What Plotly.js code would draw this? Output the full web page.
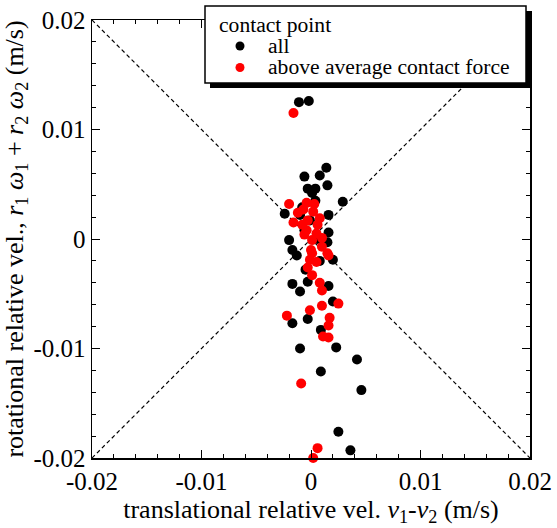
<!DOCTYPE html>
<html>
<head>
<meta charset="utf-8">
<script src="https://cdn.plot.ly/plotly-3.0.1.min.js"></script>
<style>html,body{margin:0;padding:0;background:#fff;}#chart{width:557px;height:528px;}</style>
</head>
<body>
<div id="chart"></div>
<script>
// All contact points (translational rel. vel., rotational rel. vel.) in m/s
const allX = [-0.0011,-0.0002,0.0014,0.0008,-0.0006,0.0015,-0.0003,0.0004,0.0001,0.0029,-0.0008,-0.0024,0.0016,-0.0020,-0.0017,0.0016,0.0015,-0.0013,0.0020,-0.0005,-0.0017,-0.0010,-0.0003,0.0016,0.0020,-0.0017,-0.0003,0.0009,-0.0010,0.0023,0.0042,0.0009,0.0046,0.0025,0.0036,-0.0001,0.0006,-0.0006,0.0004,0.0008,-0.0010];
const allY = [0.0125,0.0126,0.0065,0.0058,0.0057,0.0049,0.0046,0.0046,0.0042,0.0034,0.0029,0.0023,0.0022,-0.0001,-0.0010,0.0006,-0.0003,-0.0015,-0.0019,-0.0028,-0.0041,-0.0048,-0.0039,-0.0043,-0.0057,-0.0077,-0.0073,-0.0083,-0.0100,-0.0099,-0.0110,-0.0121,-0.0138,-0.0176,-0.0193,0.0017,0.0000,0.0008,0.0035,-0.0020,0.0022];
// Contact points with above average contact force
const hiX = [-0.0016,-0.0020,-0.0004,0.0003,-0.0012,-0.0016,-0.0003,0.0006,0.0005,0.0001,0.0010,0.0015,0.0001,0.0016,-0.0003,0.0008,0.0010,0.0025,0.0010,-0.0001,-0.0022,0.0017,0.0016,0.0011,0.0016,-0.0009,0.0006,0.0002,-0.0007,0.0002,0.0008,-0.0006,0.0000,0.0010,-0.0001,0.0005,0.0001,-0.0004,-0.0008];
const hiY = [0.0115,0.0032,0.0033,0.0032,0.0024,0.0015,0.0017,0.0013,0.0005,-0.0001,-0.0007,-0.0013,-0.0013,-0.0015,-0.0026,-0.0040,-0.0047,-0.0059,-0.0061,-0.0065,-0.0070,-0.0072,-0.0079,-0.0089,-0.0090,-0.0132,-0.0191,-0.0200,0.0027,0.0025,0.0019,0.0004,-0.0010,0.0001,-0.0019,-0.0021,-0.0033,0.0008,0.0013];
// Reference diagonals
const diag1X = [-0.02, 0.02], diag1Y = [-0.02, 0.02];
const diag2X = [-0.02, 0.02], diag2Y = [0.02, -0.02];
const tickVals = [-0.02, -0.01, 0, 0.01, 0.02];
const tickText = ['-0.02', '-0.01', '0', '0.01', '0.02'];
// Legend
const legendTitle = 'contact point';
const seriesNames = ['all', 'above average contact force'];
const seriesColors = ['black', '#ff0000'];

const font = '"Liberation Serif", serif';
const dashLine = {color: 'black', width: 1.2, dash: '4px,3px'};
const traces = [
  {x: diag1X, y: diag1Y, mode: 'lines', line: dashLine, showlegend: false, hoverinfo: 'skip'},
  {x: diag2X, y: diag2Y, mode: 'lines', line: dashLine, showlegend: false, hoverinfo: 'skip'},
  {x: allX, y: allY, mode: 'markers', name: seriesNames[0], cliponaxis: false,
   marker: {color: seriesColors[0], size: 10}},
  {x: hiX, y: hiY, mode: 'markers', name: seriesNames[1], cliponaxis: false,
   marker: {color: seriesColors[1], size: 10}}
];
const axisCommon = {
  range: [-0.02, 0.02], showgrid: false, zeroline: false,
  showline: true, linecolor: 'black', linewidth: 1.5, mirror: 'allticks',
  ticks: 'inside', ticklen: 8, tickwidth: 1, tickcolor: 'black',
  tickvals: tickVals, ticktext: tickText,
  tickfont: {family: font, size: 25, color: 'black'},
  minor: {ticks: 'inside', dtick: 0.002, ticklen: 4, tickwidth: 1, tickcolor: 'black'}
};
// legend geometry (paper coords; plot area is 438 px square)
const px = X => (X - 92) / 438, py = Y => (458 - Y) / 438;
const shapes = [
  {type: 'rect', xref: 'paper', yref: 'paper', x0: px(210), x1: px(532), y0: py(88), y1: py(11),
   line: {width: 0}, fillcolor: 'black', layer: 'above'},
  {type: 'rect', xref: 'paper', yref: 'paper', x0: px(205), x1: px(526), y0: py(83), y1: py(6),
   line: {width: 1.5, color: 'black'}, fillcolor: 'white', layer: 'above'}
];
const annotations = [
  {xref: 'paper', yref: 'paper', x: px(217), y: py(25), xanchor: 'left', yanchor: 'middle',
   text: legendTitle, showarrow: false, font: {family: font, size: 21.6, color: 'black'}}
];
seriesNames.forEach((n, i) => {
  const yc = py(46 + i * 21.5);
  shapes.push({type: 'circle', xref: 'paper', yref: 'paper', xsizemode: 'pixel', ysizemode: 'pixel',
    xanchor: px(240), yanchor: yc, x0: -4.5, x1: 4.5, y0: -4.5, y1: 4.5,
    fillcolor: seriesColors[i], line: {width: 0}, layer: 'above'});
  annotations.push({xref: 'paper', yref: 'paper', x: px(266), y: yc, xanchor: 'left', yanchor: 'middle',
    text: n, showarrow: false, font: {family: font, size: 21.6, color: 'black'}});
});
const layout = {
  width: 557, height: 528,
  margin: {l: 92, r: 27, t: 20, b: 70},
  paper_bgcolor: 'white', plot_bgcolor: 'white',
  font: {family: font, color: 'black'},
  xaxis: Object.assign({}, axisCommon, {
    title: {text: 'translational relative vel. <i>v</i><sub>1</sub>-<i>v</i><sub>2</sub> (m/s)', font: {family: font, size: 26}, standoff: 6}
  }),
  yaxis: Object.assign({}, axisCommon, {
    title: {text: 'rotational relative vel., <i>r</i><sub>1</sub> <i>ω</i><sub>1</sub> + <i>r</i><sub>2</sub> <i>ω</i><sub>2</sub> (m/s)', font: {family: font, size: 26}, standoff: 4}
  }),
  showlegend: false,
  shapes: shapes,
  annotations: annotations
};
Plotly.newPlot('chart', traces, layout, {staticPlot: true});
</script>
</body>
</html>
